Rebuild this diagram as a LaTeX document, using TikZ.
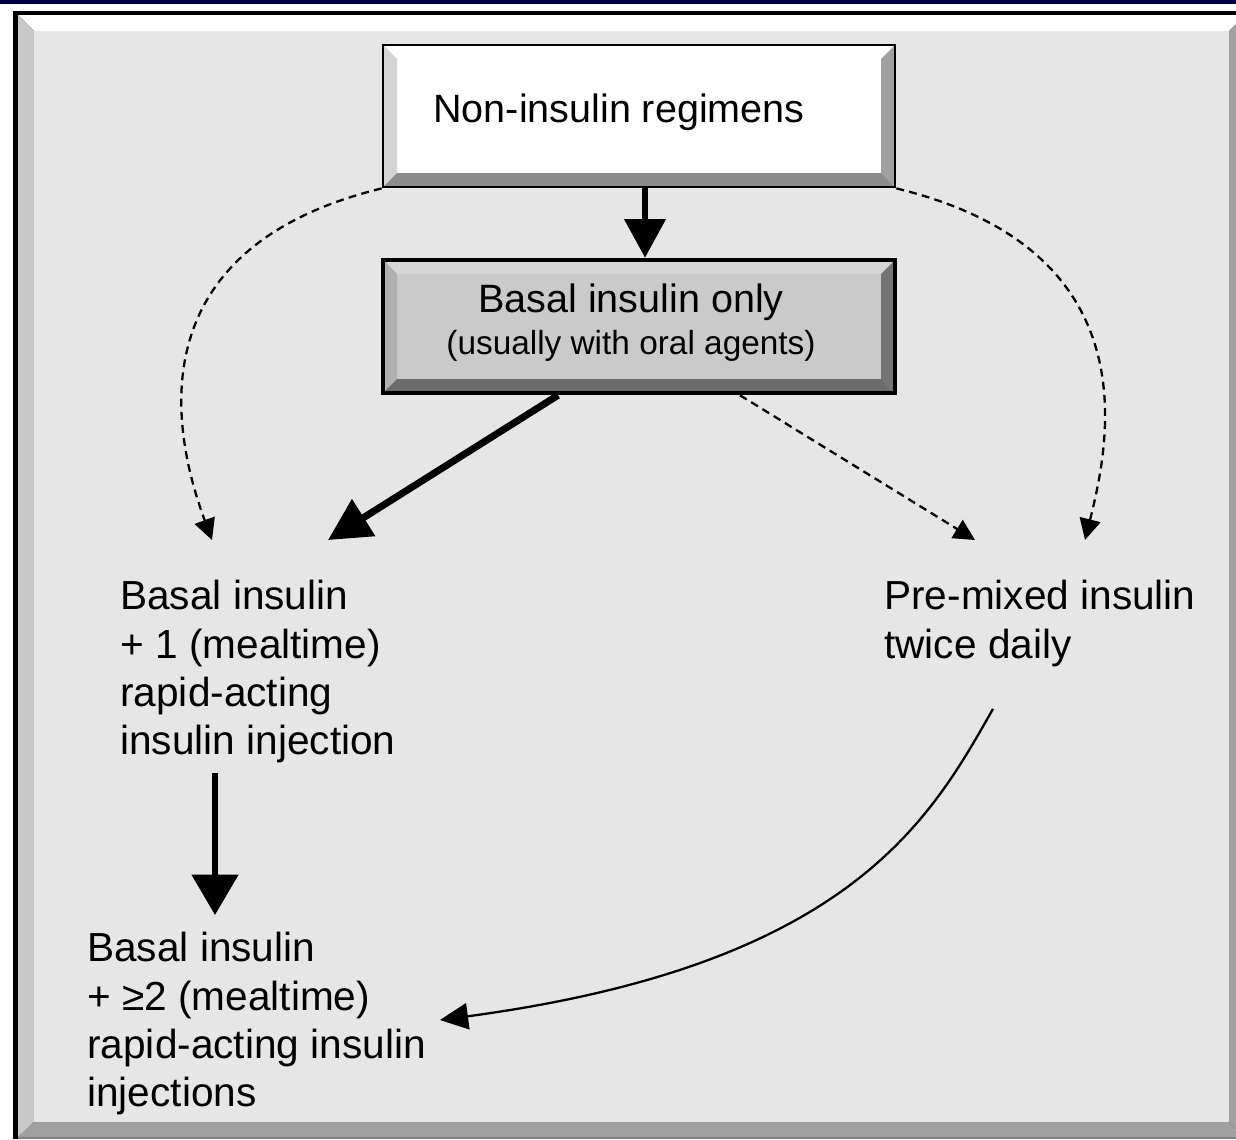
\documentclass[tikz,border=0pt]{standalone}
\usepackage{fontspec}
\setmainfont{Liberation Sans}
\usetikzlibrary{arrows.meta,calc}

\definecolor{navy}{HTML}{000040}
\definecolor{panel}{HTML}{E6E6E6}
\definecolor{frameL}{HTML}{C8C8C8}
\definecolor{frameD}{HTML}{A0A0A0}
\definecolor{boxAl}{HTML}{D4D4D4}
\definecolor{boxAr}{HTML}{A0A0A0}
\definecolor{boxAb}{HTML}{8C8C8C}
\definecolor{boxB}{HTML}{CACACA}
\definecolor{boxBt}{HTML}{D6D6D6}
\definecolor{boxBl}{HTML}{B0B0B0}
\definecolor{boxBr}{HTML}{747474}
\definecolor{boxBb}{HTML}{6C6C6C}

\begin{document}
\begin{tikzpicture}[x=0.02cm,y=-0.02cm,
  txt/.style={inner sep=0pt,align=left,font=\fontsize{23.1}{27.5}\selectfont},
  boxline/.style={draw=black,minimum width=10.24cm},
  fat/.style={line width=3.4pt,-{Triangle[length=22pt,width=23pt]}},
  dashedarrow/.style={line width=1.3pt,dash pattern=on 4.5pt off 3pt,
    -{Triangle[length=12pt,width=12pt]}},
  curvearrow/.style={line width=1.3pt,-{Triangle[length=16pt,width=15pt]}}]
\useasboundingbox (0,0) rectangle (1236,1139);
% ---------- frame ----------
\fill[white] (0,0) rectangle (1236,1139);
\fill[navy] (0,0) rectangle (1236,4);
\fill[black] (13,11) rectangle (1245,1139);
\fill[white] (18,15) -- (1245,15) -- (1229,31) -- (34,31) -- cycle;
\fill[frameL] (18,15) -- (34,31) -- (34,1122) -- (18,1137) -- cycle;
\fill[frameD] (1245,15) -- (1245,1137) -- (1229,1122) -- (1229,31) -- cycle;
\fill[frameD] (18,1137) -- (1245,1137) -- (1229,1122) -- (34,1122) -- cycle;
\fill[black!50] (18,1137) rectangle (1245,1139);
\fill[panel] (34,31) rectangle (1229,1122);
% ---------- boxes ----------
% non-insulin box: white face, bevelled edges
\fill[white] (383,45) rectangle (895,187);
\fill[boxAl] (383,45) -- (397,59) -- (397,173) -- (383,187) -- cycle;
\fill[boxAr] (895,45) -- (895,187) -- (881,173) -- (881,59) -- cycle;
\fill[boxAb] (383,187) -- (895,187) -- (881,173) -- (397,173) -- cycle;
\node[boxline,line width=1.6pt,minimum height=2.84cm] (nonins) at (639,116) {};
% basal box: grey face, darker bevels
\fill[boxB] (383,260) rectangle (895,393);
\fill[boxBt] (383,260) -- (895,260) -- (881,274) -- (397,274) -- cycle;
\fill[boxBl] (383,260) -- (397,274) -- (397,379) -- (383,393) -- cycle;
\fill[boxBr] (895,260) -- (895,393) -- (881,379) -- (881,274) -- cycle;
\fill[boxBb] (383,393) -- (895,393) -- (881,379) -- (397,379) -- cycle;
\node[boxline,line width=2.6pt,minimum height=2.66cm] (basal) at (639,326.5) {};
% ---------- labels ----------
\node[anchor=base,inner sep=0pt,font=\fontsize{22.5}{27.5}\selectfont]
  (nonins-t) at (619,122) {Non-insulin regimens};
\node[anchor=north,inner sep=0pt,align=center,font=\fontsize{22.5}{24}\selectfont]
  (basal-t) at (631,283) {Basal insulin only\\{\fontsize{19}{24}\selectfont (usually with oral agents)}};
\node[txt,anchor=north west] (bolus1) at (120,580)
  {Basal insulin\\+ 1 (mealtime)\\rapid-acting\\insulin injection};
\node[txt,anchor=north west] (bolus2) at (87,932)
  {Basal insulin\\+ ≥2 (mealtime)\\rapid-acting insulin\\injections};
\node[txt,anchor=north west] (premix) at (884,580)
  {Pre-mixed insulin\\twice daily};
% ---------- arrow ends ----------
\coordinate (b1in) at ($(bolus1.north west)+(208,-40)$);
\coordinate (b1dash) at ($(bolus1.north west)+(92,-40)$);
\coordinate (pmin) at ($(premix.north west)+(91,-40)$);
\coordinate (pmdash) at ($(premix.north west)+(201,-40)$);
\coordinate (b1out) at ($(bolus1.south west)+(95,10)$);
\coordinate (b2in) at ($(bolus2.north west)+(128,-17)$);
\coordinate (pmout) at ($(premix.south west)+(109,42)$);
\coordinate (b2side) at ($(bolus2.north west)+(353,88)$);
% ---------- connectors ----------
\draw[fat] ([xshift=0.12cm]nonins.south) -- ([xshift=0.12cm]basal.north);
\draw[fat,line width=4pt,-{Triangle[length=24pt,width=24pt]}]
  ([xshift=-1.62cm]basal.south) -- (b1in);
\draw[fat,-{Triangle[length=23pt,width=26pt]}] (b1out) -- (b2in);
\draw[dashedarrow] (nonins.south west) .. controls (130,250) and (175,440) .. (b1dash);
\draw[dashedarrow] (nonins.south east) .. controls (1150,250) and (1110,440) .. (pmdash);
\draw[dashedarrow] ([xshift=2.02cm]basal.south) -- (pmin);
\draw[curvearrow] (pmout) .. controls (930,820) and (850,965) .. (b2side);
\end{tikzpicture}
\end{document}
